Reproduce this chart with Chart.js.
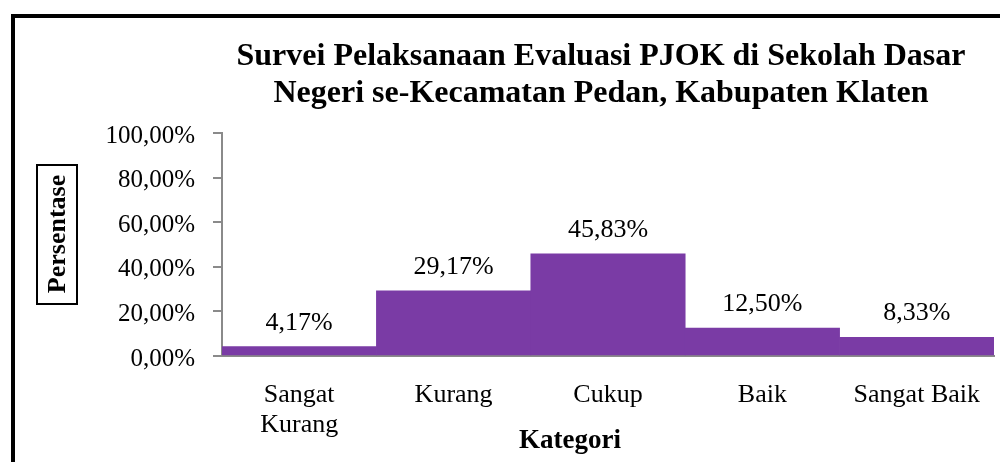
<!DOCTYPE html>
<html>
<head>
<meta charset="utf-8">
<script src="https://cdn.jsdelivr.net/npm/chart.js@4.4.1/dist/chart.umd.min.js"></script>
<style>
    html, body { margin: 0; padding: 0; background: #fff; overflow: hidden; }
    #wrap { position: relative; width: 1000px; height: 462px; }
    #frame {
        position: absolute; left: 11px; top: 14px;
        width: 1100px; height: 600px;
        border: 4px solid #000; box-sizing: border-box;
    }
    canvas { position: absolute; left: 0; top: 0; }
</style>
</head>
<body>
<div id="wrap">
    <div id="frame"></div>
    <canvas id="chart" width="1000" height="462"></canvas>
</div>
<script>
const categories = [['Sangat', 'Kurang'], 'Kurang', 'Cukup', 'Baik', 'Sangat Baik'];
const percentages = [4.17, 29.17, 45.83, 12.50, 8.33];
const yTicks = [0, 20, 40, 60, 80, 100];
const titleLines = [
    'Survei Pelaksanaan Evaluasi PJOK di Sekolah Dasar',
    'Negeri se-Kecamatan Pedan, Kabupaten Klaten',
];
const yTitle = 'Persentase';
const xTitle = 'Kategori';

const SERIF = '"Liberation Serif", "Times New Roman", serif';
const fmtPct = v => v.toFixed(2).replace('.', ',') + '%';

const textPlugin = {
    id: 'textPlugin',
    afterDraw(chart) {
        const ctx = chart.ctx;
        ctx.save();
        ctx.fillStyle = '#000';

        // title
        ctx.font = 'bold 32px ' + SERIF;
        ctx.textAlign = 'center';
        ctx.textBaseline = 'alphabetic';
        ctx.fillText(titleLines[0], 601, 65);
        ctx.fillText(titleLines[1], 601, 102);

        // value labels above bars
        ctx.font = '26px ' + SERIF;
        const meta = chart.getDatasetMeta(0);
        meta.data.forEach((bar, i) => {
            ctx.fillText(fmtPct(percentages[i]), bar.x, bar.y - 17);
        });

        // x axis title
        ctx.font = 'bold 27px ' + SERIF;
        ctx.fillText(xTitle, 570, 448);

        // y axis title in a box
        ctx.strokeStyle = '#000';
        ctx.lineWidth = 2;
        ctx.strokeRect(37, 165, 40, 139);
        ctx.translate(57, 234);
        ctx.rotate(-Math.PI / 2);
        ctx.font = 'bold 26px ' + SERIF;
        ctx.textBaseline = 'middle';
        ctx.fillText(yTitle, 0, 1);
        ctx.restore();
    },
};

new Chart(document.getElementById('chart'), {
    type: 'bar',
    data: {
        labels: categories,
        datasets: [{
            data: percentages,
            backgroundColor: '#7a3ba5',
            borderWidth: 0,
            barPercentage: 1,
            categoryPercentage: 1,
        }],
    },
    options: {
        responsive: false,
        animation: false,
        layout: { padding: { top: 133, right: 6, left: 0, bottom: 0 } },
        plugins: {
            legend: { display: false },
            title: { display: false },
            tooltip: { enabled: false },
        },
        scales: {
            x: {
                afterFit: s => { s.height = 106; },
                grid: { display: false },
                border: { color: '#8a8a8a', width: 2 },
                ticks: {
                    color: '#000',
                    padding: 16,
                    maxRotation: 0,
                    autoSkip: false,
                    font: { family: SERIF, size: 26, lineHeight: 1.15 },
                },
            },
            y: {
                min: 0,
                max: 100,
                afterFit: s => { s.width = 222; },
                afterBuildTicks: s => { s.ticks = yTicks.map(v => ({ value: v })); },
                grid: {
                    drawOnChartArea: false,
                    drawTicks: true,
                    tickLength: 9,
                    color: '#8a8a8a',
                    lineWidth: 2,
                },
                border: { color: '#8a8a8a', width: 2 },
                ticks: {
                    color: '#000',
                    padding: 18,
                    labelOffset: 3,
                    font: { family: SERIF, size: 25 },
                    callback: v => fmtPct(v),
                },
            },
        },
    },
    plugins: [textPlugin],
});
</script>
</body>
</html>
